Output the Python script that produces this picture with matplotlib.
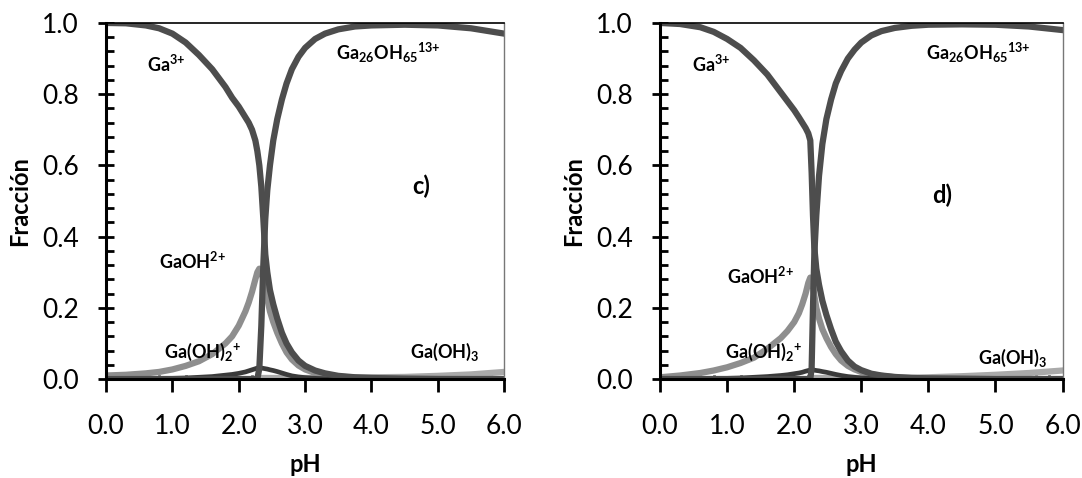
import matplotlib
matplotlib.use("Agg")
import matplotlib.pyplot as plt
from matplotlib.ticker import MultipleLocator, FormatStrFormatter

plt.rcParams['font.family'] = ['Lato', 'DejaVu Sans']
plt.rcParams['mathtext.fontset'] = 'custom'
plt.rcParams['mathtext.rm'] = 'Lato:bold'
plt.rcParams['mathtext.bf'] = 'Lato:bold'
plt.rcParams['mathtext.it'] = 'Lato:bold'
plt.rcParams['mathtext.default'] = 'bf'

# panel c)
ph_c = [0.0, 0.3, 0.6, 0.8, 1.0, 1.2, 1.4, 1.6, 1.8, 1.9,
        2.0, 2.1, 2.15, 2.2, 2.25, 2.28, 2.31, 2.34, 2.37, 2.4,
        2.43, 2.47, 2.52, 2.58, 2.65, 2.72, 2.8, 2.9, 3.0, 3.15,
        3.3, 3.5, 3.75, 4.0, 4.5, 5.0, 5.5, 6.0]
ga3_c = [1.0, 0.999, 0.993, 0.985, 0.97, 0.945, 0.91, 0.87, 0.82, 0.79,
         0.765, 0.735, 0.72, 0.70, 0.67, 0.64, 0.60, 0.54, 0.45, 0.35,
         0.30, 0.25, 0.21, 0.17, 0.13, 0.10, 0.075, 0.052, 0.037, 0.024,
         0.016, 0.009, 0.005, 0.003, 0.001, 0.0, 0.0, 0.0]
ga26_c = [0.0, 0.0, 0.0, 0.0, 0.0, 0.0, 0.0, 0.0, 0.0, 0.0,
          0.0, 0.0, 0.0, 0.0, 0.0, 0.0, 0.03, 0.15, 0.32, 0.45,
          0.53, 0.60, 0.67, 0.73, 0.785, 0.83, 0.87, 0.905, 0.93, 0.955,
          0.97, 0.982, 0.99, 0.993, 0.995, 0.993, 0.985, 0.97]
gaoh_c = [0.01, 0.012, 0.016, 0.02, 0.027, 0.037, 0.05, 0.07, 0.10, 0.12,
          0.15, 0.19, 0.215, 0.245, 0.28, 0.30, 0.31, 0.30, 0.28, 0.25,
          0.225, 0.19, 0.16, 0.13, 0.10, 0.075, 0.055, 0.038, 0.027, 0.017,
          0.011, 0.007, 0.004, 0.003, 0.002, 0.001, 0.0, 0.0]
gaoh2_c = [0.0, 0.0, 0.001, 0.001, 0.002, 0.003, 0.005, 0.007, 0.011, 0.013,
           0.016, 0.02, 0.023, 0.026, 0.029, 0.031, 0.032, 0.031, 0.03, 0.029,
           0.028, 0.026, 0.024, 0.021, 0.017, 0.013, 0.009, 0.006, 0.004, 0.002,
           0.001, 0.0, 0.0, 0.0, 0.0, 0.0, 0.0, 0.0]
gaoh3_c = [0.0, 0.0, 0.0, 0.0, 0.0, 0.0, 0.0, 0.0, 0.0, 0.0,
           0.0, 0.0, 0.0, 0.0, 0.0, 0.0, 0.002, 0.003, 0.003, 0.003,
           0.003, 0.003, 0.003, 0.003, 0.003, 0.003, 0.003, 0.003, 0.003, 0.003,
           0.003, 0.003, 0.004, 0.005, 0.006, 0.009, 0.013, 0.02]

# panel d)
ph_d = [0.0, 0.3, 0.6, 0.8, 1.0, 1.2, 1.4, 1.6, 1.8, 1.9,
        2.0, 2.07, 2.12, 2.17, 2.21, 2.24, 2.26, 2.28, 2.3, 2.33,
        2.37, 2.42, 2.48, 2.55, 2.62, 2.7, 2.8, 2.9, 3.0, 3.15,
        3.3, 3.5, 3.75, 4.0, 4.5, 5.0, 5.5, 6.0]
ga3_d = [1.0, 0.997, 0.988, 0.975, 0.955, 0.93, 0.895, 0.855, 0.805, 0.78,
         0.755, 0.735, 0.72, 0.705, 0.69, 0.67, 0.58, 0.46, 0.37, 0.31,
         0.265, 0.22, 0.18, 0.14, 0.105, 0.078, 0.052, 0.035, 0.025, 0.015,
         0.01, 0.006, 0.003, 0.002, 0.001, 0.0, 0.0, 0.0]
ga26_d = [0.0, 0.0, 0.0, 0.0, 0.0, 0.0, 0.0, 0.0, 0.0, 0.0,
          0.0, 0.0, 0.0, 0.0, 0.0, 0.0, 0.03, 0.20, 0.35, 0.46,
          0.57, 0.66, 0.73, 0.785, 0.83, 0.865, 0.90, 0.925, 0.945, 0.965,
          0.977, 0.986, 0.992, 0.995, 0.996, 0.995, 0.99, 0.98]
gaoh_d = [0.005, 0.01, 0.017, 0.024, 0.033, 0.045, 0.06, 0.085, 0.115, 0.135,
          0.16, 0.185, 0.21, 0.24, 0.27, 0.285, 0.28, 0.26, 0.235, 0.20,
          0.17, 0.14, 0.115, 0.09, 0.07, 0.052, 0.037, 0.027, 0.02, 0.013,
          0.009, 0.005, 0.003, 0.002, 0.001, 0.0, 0.0, 0.0]
gaoh2_d = [0.0, 0.0, 0.001, 0.001, 0.002, 0.003, 0.005, 0.007, 0.01, 0.012,
           0.015, 0.017, 0.019, 0.022, 0.024, 0.025, 0.026, 0.026, 0.025, 0.024,
           0.023, 0.021, 0.019, 0.016, 0.013, 0.01, 0.007, 0.005, 0.003, 0.002,
           0.001, 0.0, 0.0, 0.0, 0.0, 0.0, 0.0, 0.0]
gaoh3_d = [0.0, 0.0, 0.0, 0.0, 0.0, 0.0, 0.0, 0.0, 0.0, 0.0,
           0.0, 0.0, 0.0, 0.0, 0.0, 0.0, 0.002, 0.003, 0.003, 0.003,
           0.003, 0.003, 0.003, 0.003, 0.003, 0.003, 0.003, 0.003, 0.003, 0.003,
           0.003, 0.003, 0.004, 0.005, 0.008, 0.012, 0.017, 0.024]

x_ticks = [0, 1, 2, 3, 4, 5, 6]

DARK = "#4d4d4d"
MID = "#8e8e8e"
LIGHT = "#aaaaaa"
LW = 4.5


def draw_panel(ax, ph, ga3, ga26, gaoh, gaoh2, gaoh3, labels, tag):
    ax.plot(ph, gaoh3, color=LIGHT, lw=LW)
    ax.plot(ph, gaoh, color=MID, lw=LW)
    ax.plot(ph, gaoh2, color="#3a3a3a", lw=LW * 0.75)
    ax.plot(ph, ga3, color=DARK, lw=LW)
    ax.plot(ph, ga26, color=DARK, lw=LW)

    ax.set_xlim(0, 6)
    ax.set_ylim(0, 1.0)
    ax.set_xticks(x_ticks)
    ax.xaxis.set_major_formatter(FormatStrFormatter("%.1f"))
    ax.yaxis.set_major_locator(MultipleLocator(0.2))
    ax.yaxis.set_major_formatter(FormatStrFormatter("%.1f"))
    ax.yaxis.set_minor_locator(MultipleLocator(0.04))
    ax.xaxis.set_minor_locator(MultipleLocator(0.2))

    ax.tick_params(axis="y", which="major", direction="inout", length=11, width=2,
                   labelsize=19, pad=14)
    ax.tick_params(axis="y", which="minor", direction="in", length=6, width=2)
    ax.tick_params(axis="x", which="major", direction="out", length=9, width=2,
                   labelsize=19, pad=16)
    ax.tick_params(axis="x", which="minor", direction="in", length=3, width=2)

    ax.spines["left"].set_linewidth(2.2)
    ax.spines["bottom"].set_linewidth(2.2)
    ax.spines["top"].set_linewidth(1.2)
    ax.spines["right"].set_linewidth(1.0)
    ax.spines["right"].set_color("#777777")

    ax.set_xlabel("pH", fontsize=17, fontweight="bold", labelpad=10)
    ax.set_ylabel("Fracción", fontsize=17, fontweight="bold", labelpad=8)

    for (x, y, s) in labels:
        ax.text(x, y, s, fontsize=13, fontweight="bold", ha="center", va="center")
    ax.text(tag[0], tag[1], tag[2], fontsize=17, fontweight="bold", ha="center", va="center")


fig = plt.figure(figsize=(10.82, 4.78), dpi=100)
ax1 = fig.add_axes([0.098, 0.207, 0.368, 0.745])
ax2 = fig.add_axes([0.610, 0.207, 0.372, 0.745])

labels_c = [
    (0.9, 0.885, r"Ga$^{3{+}}$"),
    (4.25, 0.915, r"Ga$_{26}$OH$_{65}$$^{13{+}}$"),
    (1.3, 0.33, r"GaOH$^{2{+}}$"),
    (1.45, 0.075, r"Ga(OH)$_2$$^{{+}}$"),
    (5.1, 0.075, r"Ga(OH)$_3$"),
]
labels_d = [
    (0.77, 0.885, r"Ga$^{3{+}}$"),
    (4.75, 0.915, r"Ga$_{26}$OH$_{65}$$^{13{+}}$"),
    (1.5, 0.29, r"GaOH$^{2{+}}$"),
    (1.55, 0.075, r"Ga(OH)$_2$$^{{+}}$"),
    (5.25, 0.06, r"Ga(OH)$_3$"),
]

draw_panel(ax1, ph_c, ga3_c, ga26_c, gaoh_c, gaoh2_c, gaoh3_c, labels_c, (4.75, 0.54, "c)"))
draw_panel(ax2, ph_d, ga3_d, ga26_d, gaoh_d, gaoh2_d, gaoh3_d, labels_d, (4.2, 0.515, "d)"))

plt.savefig("out.png", dpi=100)
plt.close()
